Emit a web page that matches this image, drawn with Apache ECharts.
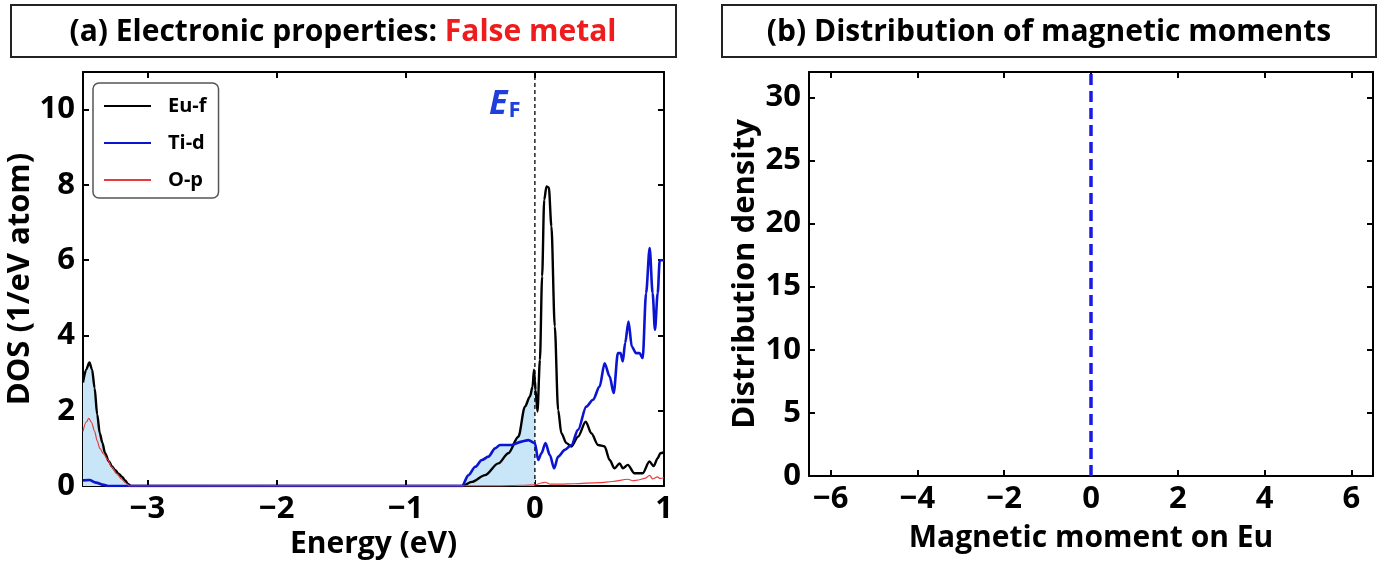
<!DOCTYPE html>
<html><head><meta charset="utf-8">
<script src="https://cdn.jsdelivr.net/npm/echarts@6/dist/echarts.min.js"></script>
<style>html,body{margin:0;padding:0;background:#fff}#c{width:1382px;height:565px}</style>
</head><body><div id="c"></div>
<script>
// ---------- data ----------
const eufDOS = [[-3.5,2.75],[-3.475,3.1],[-3.45,3.28],[-3.43,3.1],[-3.41,2.6],[-3.39,1.9],[-3.37,1.4],[-3.35,1.15],[-3.33,0.88],[-3.3,0.66],[-3.276,0.52],[-3.25,0.42],[-3.225,0.33],[-3.2,0.25],[-3.174,0.15],[-3.15,0.05],[-3.13,0],
 [-0.565,0],[-0.488,0.11],[-0.386,0.29],[-0.283,0.6],[-0.206,0.87],[-0.128,1.31],[-0.077,2.11],[-0.038,2.38],[-0.018,2.64],[-0.007,3.09],[0,2.8],[0.005,2.55],[0.02,1.98],[0.039,3.35],[0.056,5.57],[0.072,7.6],[0.09,7.96],[0.108,7.93],[0.128,6.9],[0.154,4.24],[0.18,2.02],[0.205,1.4],[0.244,1.14],[0.283,1.05],[0.334,1.31],[0.394,1.71],[0.437,1.4],[0.489,1.09],[0.54,1.05],[0.579,0.69],[0.617,0.47],[0.656,0.6],[0.681,0.47],[0.72,0.56],[0.771,0.34],[0.835,0.34],[0.887,0.65],[0.92,0.53],[0.951,0.74],[0.972,0.87],[1.0,0.9]];
const tidDOS = [[-3.5,0.15],[-3.45,0.16],[-3.4,0.09],[-3.34,0.03],[-3.3,0],
 [-0.565,0],[-0.514,0.29],[-0.462,0.51],[-0.411,0.69],[-0.36,0.78],[-0.308,1.0],[-0.27,1.09],[-0.18,1.09],[-0.103,1.18],[-0.051,1.22],[0,1.14],[0.026,0.69],[0.051,0.87],[0.082,1.14],[0.116,0.82],[0.149,0.47],[0.18,0.78],[0.232,0.96],[0.283,1.09],[0.334,1.49],[0.398,2.11],[0.45,2.29],[0.501,2.64],[0.54,3.26],[0.579,2.91],[0.61,2.47],[0.643,3.53],[0.663,3.53],[0.681,3.31],[0.699,3.8],[0.725,4.37],[0.751,3.7],[0.784,3.53],[0.81,3.53],[0.835,3.4],[0.861,5.12],[0.889,6.32],[0.912,5.12],[0.93,4.15],[0.951,5.12],[0.967,6.0],[1.0,6.0]];
const opDOS = [[-3.5,1.45],[-3.475,1.7],[-3.455,1.8],[-3.435,1.7],[-3.41,1.45],[-3.39,1.2],[-3.37,1.0],[-3.34,0.85],[-3.31,0.7],[-3.276,0.5],[-3.24,0.33],[-3.2,0.18],[-3.17,0.08],[-3.14,0],
 [-0.3,0.005],[-0.1,0.02],[0,0.03],[0.05,0.08],[0.08,0.1],[0.12,0.05],[0.2,0.05],[0.3,0.06],[0.5,0.09],[0.6,0.12],[0.72,0.18],[0.76,0.14],[0.8,0.16],[0.85,0.2],[0.89,0.28],[0.91,0.19],[0.95,0.24],[0.97,0.2],[1.0,0.22]];
const fermiLine = [[0,0],[0,11]];
const momentLine = [[0,0],[0,32]];
const energyTicks = [-3,-2,-1,0,1];
const dosTicks = [0,2,4,6,8,10];
const momentTicks = [-6,-4,-2,0,2,4,6];
const densityTicks = [0,5,10,15,20,25,30];
const seriesNames = ['Eu-f','Ti-d','O-p'];

// ---------- chart ----------
const FONT = 'Open Sans';
const chart = echarts.init(document.getElementById('c'), null, {renderer:'canvas'});
const minus = v => String(v).replace('-', '\u2212');
const occupied = arr => arr.filter(p => p[0] <= 0);
const lbl = {fontFamily:FONT, fontWeight:'bold', fontSize:31, color:'#000'};
const xName = {fontFamily:FONT, fontWeight:'bold', fontSize:30, color:'#000'};
const yName = {fontFamily:FONT, fontWeight:'bold', fontSize:31, color:'#000'};
const line = {lineStyle:{color:'#000', width:2}, onZero:false};

function axis(grid, min, max, ticks, pos, main, extra){
  return Object.assign({
    type:'value', gridIndex:grid, min:min, max:max, position:pos,
    axisLine:line,
    axisTick:{inside:true, length:6, customValues:ticks, lineStyle:{color:'#000', width:2}},
    axisLabel: main ? Object.assign({customValues:ticks, formatter:minus, margin:8}, lbl) : {show:false},
    splitLine:{show:false}
  }, extra || {});
}

const option = {
  animation:false,
  backgroundColor:'#fff',
  grid:[
    {left:83, top:72, width:581, height:414},
    {left:809, top:72, width:564, height:404}
  ],
  xAxis:[
    axis(0,-3.5,1,energyTicks,'bottom',true,{name:'Energy (eV)', nameLocation:'middle', nameGap:43, nameTextStyle:xName}),
    axis(0,-3.5,1,energyTicks,'top',false),
    axis(1,-6.5,6.5,momentTicks,'bottom',true,{name:'Magnetic moment on Eu', nameLocation:'middle', nameGap:47, nameTextStyle:xName}),
    axis(1,-6.5,6.5,momentTicks,'top',false)
  ],
  yAxis:[
    axis(0,0,11,dosTicks,'left',true,{name:'DOS (1/eV atom)', nameLocation:'middle', nameGap:37, nameTextStyle:yName}),
    axis(0,0,11,dosTicks,'right',false),
    axis(1,0,32,densityTicks,'left',true,{name:'Distribution density', nameLocation:'middle', nameGap:48, nameTextStyle:yName}),
    axis(1,0,32,densityTicks,'right',false)
  ],
  legend:{
    data:seriesNames, orient:'vertical', left:93, top:83,
    padding:[13,12,8,10], itemGap:17, itemWidth:47, itemHeight:14,
    itemStyle:{opacity:0},
    borderColor:'#555', borderWidth:1.5, borderRadius:6, backgroundColor:'#fff',
    textStyle:{fontFamily:FONT, fontWeight:'bold', fontSize:20, color:'#000', padding:[0,0,0,12]}
  },
  graphic:[
    {type:'rect', shape:{x:11, y:5, width:665, height:52}, style:{fill:'#fff', stroke:'#222', lineWidth:2}},
    {type:'rect', shape:{x:722, y:5, width:654, height:52}, style:{fill:'#fff', stroke:'#222', lineWidth:2}},
    {type:'text', x:343, y:32, style:{text:'{a|(a) Electronic properties: }{r|False metal}', align:'center', verticalAlign:'middle',
      rich:{a:{fontFamily:FONT, fontWeight:'bold', fontSize:30, fill:'#000'}, r:{fontFamily:FONT, fontWeight:'bold', fontSize:30, fill:'#ee1c1c'}}}},
    {type:'text', x:1049, y:32, style:{text:'(b) Distribution of magnetic moments', align:'center', verticalAlign:'middle',
      fontFamily:FONT, fontWeight:'bold', fontSize:30, fill:'#000'}},
    {type:'text', x:489, y:86, style:{text:'{e|E}{f|F}',
      rich:{e:{fontFamily:FONT, fontWeight:'bold', fontStyle:'italic', fontSize:34, fill:'#1f3fdc', lineHeight:36},
            f:{fontFamily:FONT, fontWeight:'bold', fontSize:22, fill:'#1f3fdc', lineHeight:36, padding:[14,0,0,1]}}}}
  ],
  series:[
    {type:'line', name:'fill1', xAxisIndex:0, yAxisIndex:0, data:occupied(eufDOS), symbol:'none', smooth:0.3, smoothMonotone:'x',
      lineStyle:{width:0}, areaStyle:{color:'#c8e6f8', opacity:1}, silent:true, z:1},
    {type:'line', name:'fill2', xAxisIndex:0, yAxisIndex:0, data:occupied(tidDOS), symbol:'none', smooth:0.3, smoothMonotone:'x',
      lineStyle:{width:0}, areaStyle:{color:'#c8e6f8', opacity:1}, silent:true, z:1},
    {type:'line', name:'EF', xAxisIndex:0, yAxisIndex:0, data:fermiLine, symbol:'none',
      lineStyle:{color:'#000', width:1.3, type:[4,3]}, z:2},
    {type:'line', name:'Eu-f', xAxisIndex:0, yAxisIndex:0, data:eufDOS, symbol:'none', smooth:0.3, smoothMonotone:'x',
      lineStyle:{color:'#000', width:2.4}, itemStyle:{color:'#000'}, z:3},
    {type:'line', name:'Ti-d', xAxisIndex:0, yAxisIndex:0, data:tidDOS, symbol:'none', smooth:0.3, smoothMonotone:'x',
      lineStyle:{color:'#0a14d2', width:2.6}, itemStyle:{color:'#0a14d2'}, z:4},
    {type:'line', name:'O-p', xAxisIndex:0, yAxisIndex:0, data:opDOS, symbol:'none', smooth:0.3, smoothMonotone:'x',
      lineStyle:{color:'#e83a3a', width:1.2}, itemStyle:{color:'#e83a3a'}, z:5},
    {type:'line', name:'moment', xAxisIndex:2, yAxisIndex:2, data:momentLine, symbol:'none',
      lineStyle:{color:'#1a1ae6', width:3.5, type:[11,6]}, z:3}
  ]
};
chart.setOption(option);
</script></body></html>
